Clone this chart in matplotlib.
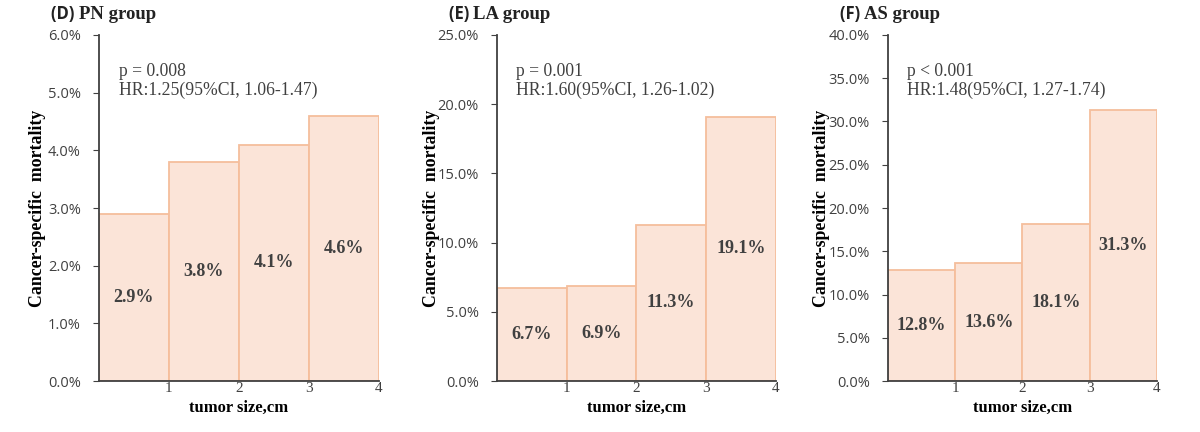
import matplotlib
matplotlib.use('Agg')
import matplotlib.pyplot as plt
import numpy as np
from matplotlib.transforms import offset_copy

# tumor size bins (cm) and mortality (%) per group
bins = [0, 1, 2, 3, 4]
panel_ids = ['(D)', '(E)', '(F)']
groups = ['PN group', 'LA group', 'AS group']
mortality = {
    'PN group': [2.9, 3.8, 4.1, 4.6],
    'LA group': [6.7, 6.9, 11.3, 19.1],
    'AS group': [12.8, 13.6, 18.1, 31.3],
}
p_texts = ['p = 0.008', 'p = 0.001', 'p < 0.001']
hr_texts = ['HR:1.25(95%CI, 1.06-1.47)', 'HR:1.60(95%CI, 1.26-1.02)', 'HR:1.48(95%CI, 1.27-1.74)']
y_max = [6, 25, 40]
y_step = [1, 5, 5]

serif = 'Liberation Serif'
sans = 'Open Sans'
fill = '#FBE4D8'
edge = '#F5BE9C'
dark = '#404040'

fig = plt.figure(figsize=(12, 4.32), dpi=100)
positions = [[0.0825, 0.118, 0.233, 0.801],
             [0.414, 0.118, 0.2325, 0.801],
             [0.740, 0.118, 0.224, 0.801]]
# ylabel anchor (right side of rotated text), pixels left of the axis
ylabel_px = [-53, -57, -58]

for i, g in enumerate(groups):
    ax = fig.add_axes(positions[i])
    vals = mortality[g]
    lefts = bins[:-1]
    ax.bar(lefts, vals, width=1, align='edge', color=fill, edgecolor=edge, linewidth=1.3)
    for x, v in zip(lefts, vals):
        ax.text(x + 0.5, v / 2, f'{v:.1f}%', ha='center', va='center',
                fontfamily=serif, fontweight='bold', fontsize=13, color=dark)
    ax.set_xlim(0, 4)
    ax.set_ylim(0, y_max[i])
    ticks = np.arange(0, y_max[i] + 0.01, y_step[i])
    ax.set_yticks(ticks)
    ax.set_yticklabels([f'{t:.1f}%' for t in ticks], fontfamily=sans, fontsize=10.5, color=dark)
    ax.set_xticks([1, 2, 3, 4])
    ax.set_xticklabels(['1', '2', '3', '4'], fontfamily=serif, fontsize=11, color=dark)
    ax.tick_params(axis='x', length=0, pad=1)
    ax.tick_params(axis='y', length=4, direction='out', color=dark, pad=9)
    for s in ['top', 'right']:
        ax.spines[s].set_visible(False)
    for s in ['left', 'bottom']:
        ax.spines[s].set_color(dark)
        ax.spines[s].set_linewidth(1.3)
    ax.set_xlabel('tumor size,cm', fontfamily=serif, fontweight='bold', fontsize=12, labelpad=3)
    ax.set_ylabel('Cancer-specific  mortality', fontfamily=serif, fontweight='bold', fontsize=12.8)
    w_px = positions[i][2] * 1200
    ax.yaxis.set_label_coords(ylabel_px[i] / w_px, 0.5)
    ax.text(0.07, 0.895, p_texts[i], transform=ax.transAxes, fontfamily=serif, fontsize=12.7,
            color=dark, va='center')
    ax.text(0.07, 0.84, hr_texts[i], transform=ax.transAxes, fontfamily=serif, fontsize=12.7,
            color=dark, va='center')
    # panel title: letter in sans, group name in serif, about 48 px left of the axis
    tr = offset_copy(ax.transAxes, fig=fig, x=-48, y=0, units='dots')
    t1 = ax.text(0, 1.06, panel_ids[i] + ' ', transform=tr, fontfamily=sans,
                 fontweight='bold', fontsize=12, va='center', color='#222222')
    fig.canvas.draw()
    bb = t1.get_window_extent().transformed(ax.transAxes.inverted())
    ax.text(bb.x1, 1.06, g, transform=ax.transAxes, fontfamily=serif,
            fontweight='bold', fontsize=13.5, va='center', color='#222222')

fig.savefig('out.png', dpi=100)
